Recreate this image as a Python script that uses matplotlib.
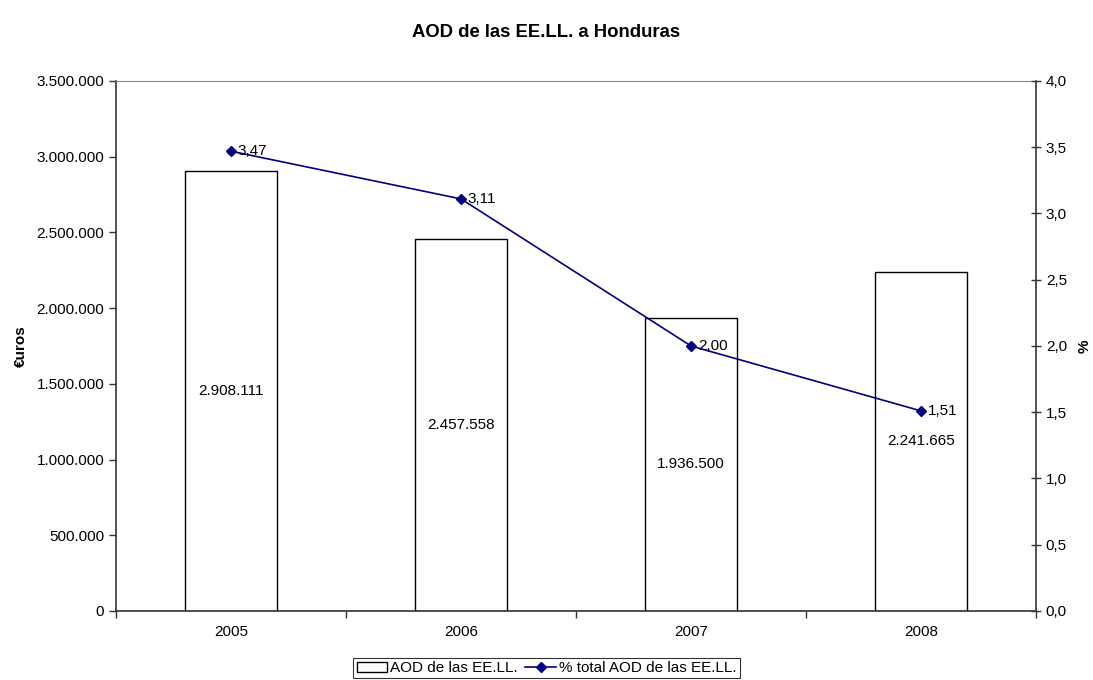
import numpy as np
import matplotlib.pyplot as plt
from matplotlib.ticker import FuncFormatter

plt.rcParams['font.family'] = ['Liberation Sans', 'DejaVu Sans']

years = ['2005', '2006', '2007', '2008']
aod = [2908111, 2457558, 1936500, 2241665]
pct = [3.47, 3.11, 2.00, 1.51]

FS = 11


def miles(v):
    return f'{int(round(v)):,}'.replace(',', '.')


fig = plt.figure(figsize=(10.93, 6.8), dpi=100)
ax = fig.add_axes([0.1061, 0.1015, 0.8418, 0.7794])
x = np.arange(len(years))

bars = ax.bar(x, aod, width=0.40, color='white', edgecolor='black', linewidth=1.0,
              label='AOD de las EE.LL.', zorder=2)
for xi, v in zip(x, aod):
    ax.text(xi, v / 2, miles(v), ha='center', va='center', fontsize=FS, zorder=3)

ax.set_xlim(-0.5, len(years) - 0.5)
ax.set_ylim(0, 3500000)
ax.set_yticks(np.arange(0, 3500001, 500000))
ax.yaxis.set_major_formatter(FuncFormatter(lambda v, p: miles(v)))
ax.set_xticks(x)
ax.set_xticklabels(years)
ax.set_xticks(np.arange(-0.5, len(years)), minor=True)
ax.tick_params(axis='x', which='major', length=0, pad=10, labelsize=FS)
ax.tick_params(axis='x', which='minor', length=5, width=1, color='#333333')
ax.tick_params(axis='y', length=5, width=1, labelsize=FS, color='#333333')
ax.set_ylabel('€uros', fontsize=FS, fontweight='bold', labelpad=6)
for s in ['left', 'bottom']:
    ax.spines[s].set_color('#333333')
    ax.spines[s].set_linewidth(1.2)
ax.spines['top'].set_color('#888888')
ax.spines['right'].set_visible(False)

ax2 = ax.twinx()
line, = ax2.plot(x, pct, color='#000080', marker='D', markersize=5, linewidth=1.2,
                 label='% total AOD de las EE.LL.', zorder=4)
for xi, v in zip(x, pct):
    ax2.annotate(f'{v:.2f}'.replace('.', ','), (xi, v), xytext=(5, 0),
                 textcoords='offset points', ha='left', va='center', fontsize=FS)
ax2.set_ylim(0, 4.0)
ax2.set_yticks(np.arange(0, 4.01, 0.5))
ax2.yaxis.set_major_formatter(FuncFormatter(lambda v, p: f'{v:.1f}'.replace('.', ',')))
ax2.tick_params(axis='y', direction='inout', length=7, width=1, labelsize=FS, color='#333333')
ax2.set_ylabel('%', fontsize=FS, fontweight='bold', labelpad=8)
ax2.spines['right'].set_color('#333333')
ax2.spines['right'].set_linewidth(1.2)
for s in ['left', 'top', 'bottom']:
    ax2.spines[s].set_visible(False)

fig.suptitle('AOD de las EE.LL. a Honduras', fontsize=13.3, fontweight='bold', y=0.965)

leg = fig.legend(handles=[bars, line], loc='lower center', bbox_to_anchor=(0.5, 0.0),
                 ncol=2, frameon=True, fancybox=False, fontsize=FS,
                 handlelength=2.0, handletextpad=0.2, columnspacing=0.5,
                 borderpad=0.2, borderaxespad=0.1)
leg.get_frame().set_edgecolor('black')
leg.get_frame().set_linewidth(0.8)

plt.savefig('out.png', dpi=100)
plt.close()
